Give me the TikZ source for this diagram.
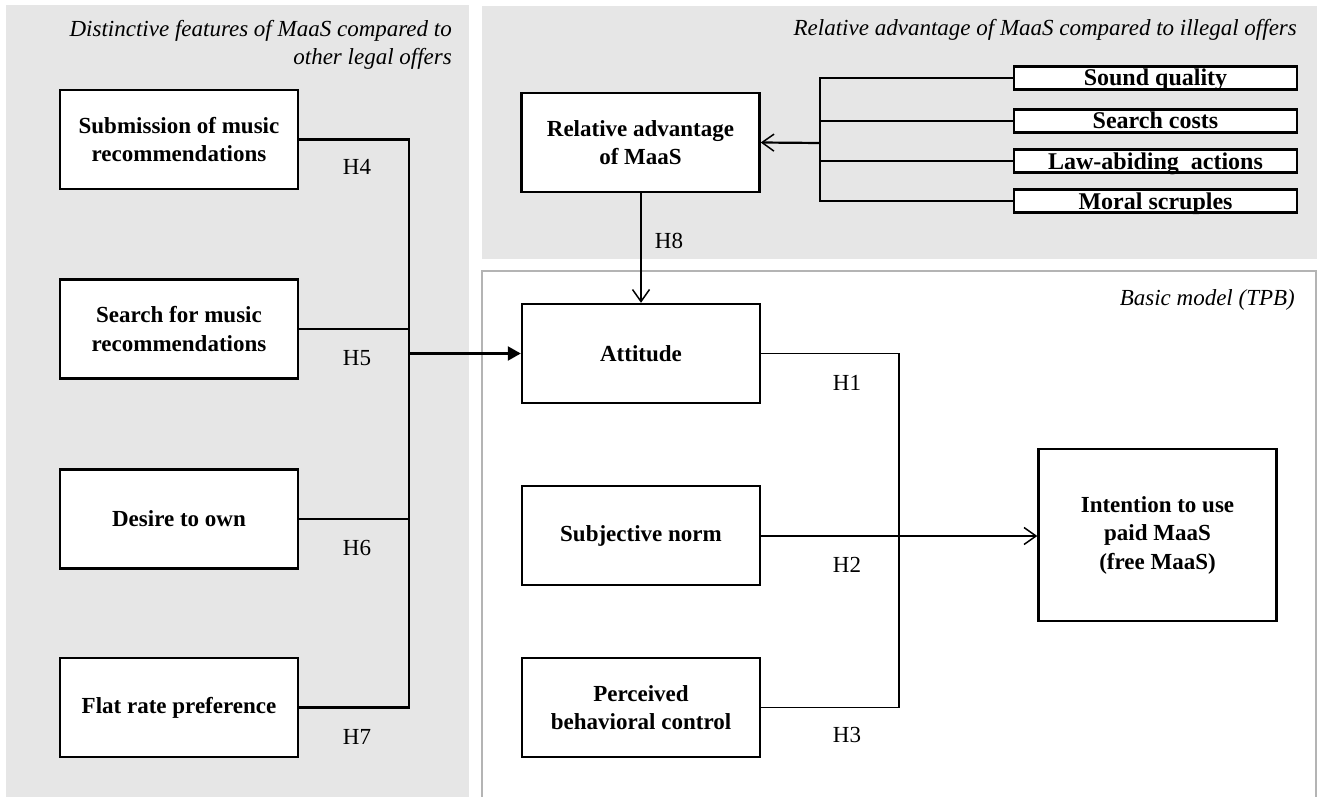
\documentclass[tikz,border=0pt]{standalone}
\usepackage{fontspec}
\setmainfont{Liberation Serif}
\usetikzlibrary{arrows.meta,positioning,calc}
\definecolor{panelgray}{HTML}{E6E6E6}
\definecolor{panelline}{HTML}{B4B4B4}
\newcommand\diagfont{\fontsize{23}{28.5}\selectfont}
\newcommand\itemfont{\fontsize{24}{26}\selectfont}
\tikzset{
    factor-box/.style={
        rectangle,
        draw=black,
        line width=2.4pt,
        fill=white,
        minimum width=238pt,
        minimum height=99pt,
        align=center,
        font=\diagfont\bfseries
    },
    item-box/.style={
        rectangle,
        draw=black,
        line width=2.2pt,
        fill=white,
        minimum width=283pt,
        minimum height=23pt,
        inner sep=0pt,
        text height=16.5pt,
        text depth=0.5pt,
        font=\itemfont\bfseries
    },
    hyp-label/.style={
        inner sep=0pt,
        anchor=base,
        font=\diagfont
    },
    panel-title/.style={
        inner sep=0pt,
        align=right,
        font=\diagfont\itshape
    },
    thin-link/.style={line width=1.3pt},
    thick-link/.style={line width=2.2pt},
    open-arrow/.style={-{Straight Barb[length=12pt,width=17pt,line width=1.5pt]}},
    solid-arrow/.style={-{Triangle[length=13pt,width=14pt]}},
}
\begin{document}
\begin{tikzpicture}[x=1pt,y=-1pt]
       \useasboundingbox (0,0) rectangle (1317,797);

       % Panels
       \fill[panelgray] (6,5) rectangle (469,797);
       \fill[panelgray] (482,6) rectangle (1317,259);
       \draw[panelline,line width=1.5pt,fill=white] (482,271) rectangle (1316,799);

       \node[panel-title,anchor=north east] (legal) at (452,20)
            {Distinctive features of MaaS compared to\\other legal offers};
       \node[panel-title,anchor=base east] (illegal) at (1297,36)
            {Relative advantage of MaaS compared to illegal offers};
       \node[panel-title,anchor=base east] (tpb) at (1295,305) {Basic model (TPB)};

       % Distinctive features
       \node[factor-box] (submit) at (179,139.5) {Submission of music\\recommendations};
       \node[factor-box] (search) at (179,329) {Search for music\\recommendations};
       \node[factor-box] (own)    at (179,519) {Desire to own};
       \node[factor-box] (flat)   at (179,707.5) {Flat rate preference};

       % Relative advantage
       \node[factor-box] (reladv) at (640.5,142.5) {Relative advantage\\of MaaS};
       \node[item-box] (sound) at (1155.5,78)  {Sound quality};
       \node[item-box] (costs) at (1155.5,121) {Search costs};
       \node[item-box] (law)   at (1155.5,161) {Law-abiding\ \ actions};
       \node[item-box] (moral) at (1155.5,201) {Moral scruples};

       % Basic model
       \node[factor-box] (attitude) at (641,353.5) {Attitude};
       \node[factor-box] (norm)     at (641,535.5) {Subjective norm};
       \node[factor-box] (control)  at (641,707.5) {Perceived\\behavioral control};
       \node[factor-box,minimum height=172pt] (intention) at (1157.5,535)
            {Intention to use\\paid MaaS\\(free MaaS)};

       % Junctions
       \coordinate (legal-spine) at (409,353.5);
       \coordinate (item-spine) at (820,143);
       \coordinate (tpb-spine) at (899,536);

       \draw[thick-link] (submit.east) -| (legal-spine);
       \draw[thick-link] (flat.east) -| (legal-spine);
       \draw[thick-link] (search.east) -- (search.east -| legal-spine);
       \draw[thick-link] (own.east) -- (own.east -| legal-spine);
       \draw[thick-link,solid-arrow] (legal-spine) -- (attitude.west);

       \draw[thin-link] (sound.west) -| (item-spine);
       \draw[thin-link] (moral.west) -| (item-spine);
       \draw[thin-link] (costs.west) -- (costs.west -| item-spine);
       \draw[thin-link] (law.west) -- (law.west -| item-spine);
       \draw[thick-link,open-arrow] (item-spine) -- (reladv.east);

       \draw[thin-link,open-arrow] (reladv.south -| attitude.north) -- (attitude.north);

       \draw[thin-link] (attitude.east) -| (tpb-spine);
       \draw[thin-link] (control.east) -| (tpb-spine);
       \draw[thin-link] (norm.east |- tpb-spine) -- (tpb-spine);
       \draw[thick-link,open-arrow] (tpb-spine) -- (intention.west |- tpb-spine);

       % Hypotheses
       \node[hyp-label] (h4) at (357,175) {H4};
       \node[hyp-label] (h5) at (357,365) {H5};
       \node[hyp-label] (h6) at (357,555) {H6};
       \node[hyp-label] (h7) at (357,744) {H7};
       \node[hyp-label] (h8) at (669,248) {H8};
       \node[hyp-label] (h1) at (847,390) {H1};
       \node[hyp-label] (h2) at (847,572) {H2};
       \node[hyp-label] (h3) at (847,742) {H3};

   \end{tikzpicture}
\end{document}
